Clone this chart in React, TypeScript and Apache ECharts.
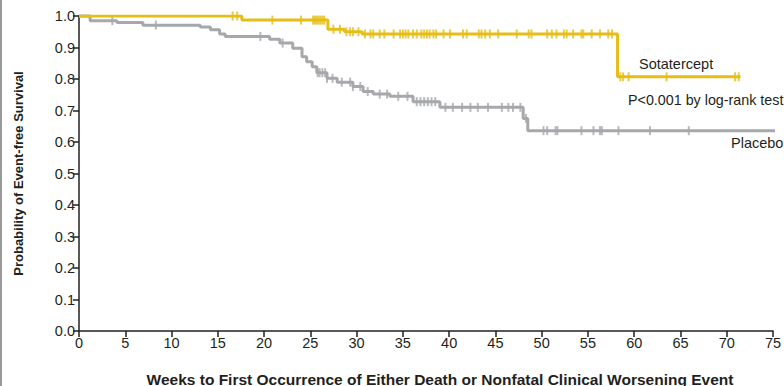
import React, { useEffect, useRef } from "react";
import * as echarts from "echarts";

// Kaplan–Meier step data (weeks, event-free probability)
const sotaWeeks = [0, 17.6, 26.9, 28.7, 30.6, 58.2, 71.5];
const sotaSurv = [1.0, 0.987, 0.958, 0.95, 0.943, 0.807, 0.807];

const placeboWeeks = [0, 1.2, 4.1, 6.9, 13.1, 14.2, 15.2, 15.8, 20.6, 21.7, 23.1, 24.1, 24.6, 25.2, 25.7, 26.8, 27.9, 29.6, 30.7, 31.8, 33.6, 36.1, 39.0, 48.0, 48.5, 76.2];
const placeboSurv = [1.0, 0.985, 0.979, 0.971, 0.965, 0.956, 0.943, 0.935, 0.926, 0.914, 0.898, 0.871, 0.855, 0.839, 0.82, 0.802, 0.79, 0.776, 0.76, 0.752, 0.745, 0.728, 0.71, 0.675, 0.636, 0.636];

// Censoring times (weeks)
const sotaCensor = [16.6, 17.1, 20.9, 24.0, 25.3, 25.5, 25.7, 25.9, 26.1, 26.3, 26.5, 27.5, 28.2, 28.9, 29.3, 29.6, 30.2, 30.9, 31.5, 31.8, 32.5, 33.0, 34.0, 34.7, 35.0, 35.3, 35.6, 36.1, 36.5, 37.0, 37.3, 37.6, 37.9, 38.3, 38.6, 39.4, 40.1, 41.5, 41.9, 43.2, 43.5, 43.9, 44.4, 45.3, 47.3, 48.6, 48.9, 50.6, 51.1, 51.6, 52.4, 52.7, 53.4, 54.3, 54.5, 55.4, 56.3, 57.2, 57.6, 58.5, 58.8, 59.4, 63.5, 70.9, 71.3];
const placeboCensor = [3.6, 8.3, 19.6, 22.0, 25.8, 26.0, 26.3, 26.6, 26.8, 27.4, 28.4, 29.3, 29.6, 30.4, 31.2, 32.5, 33.3, 34.5, 35.5, 36.5, 36.9, 37.3, 37.7, 38.1, 38.5, 39.6, 40.4, 41.4, 42.3, 43.1, 44.2, 45.7, 46.4, 46.9, 47.7, 48.3, 50.2, 50.6, 51.5, 51.7, 54.3, 55.6, 56.3, 56.5, 58.3, 61.7, 65.9];

const xTicks = { min: 0, max: 75, interval: 5 };
const yTicks = { min: 0, max: 1, interval: 0.1 };

const YELLOW = "#E5BE17";
const GRAY = "#A6A8AB";
const TEXT = "#231F20";
const FONT = "Liberation Sans";

function survAt(weeks: number[], surv: number[], t: number): number {
  let v = surv[0];
  for (let i = 0; i < weeks.length; i++) {
    if (weeks[i] <= t) v = surv[i];
  }
  return v;
}

export default function App() {
  const ref = useRef<HTMLDivElement>(null);
  useEffect(() => {
    document.body.style.margin = "0";
    const chart = echarts.init(ref.current!, null, { renderer: "svg" });
    const sotaLine = sotaWeeks.map((w, i) => [w, sotaSurv[i]]);
    const placeboLine = placeboWeeks.map((w, i) => [w, placeboSurv[i]]);
    const sotaMarks = sotaCensor.map((t) => [t, survAt(sotaWeeks, sotaSurv, t)]);
    const placeboMarks = placeboCensor.map((t) => [t, survAt(placeboWeeks, placeboSurv, t)]);
    chart.setOption({
      animation: false,
      backgroundColor: "#ffffff",
      grid: { left: 79, right: 11, top: 16, bottom: 55, containLabel: false, outerBoundsMode: "none" },
      xAxis: {
        type: "value",
        min: xTicks.min,
        max: xTicks.max,
        interval: xTicks.interval,
        name: "Weeks to First Occurrence of Either Death or Nonfatal Clinical Worsening Event",
        nameLocation: "middle",
        nameGap: 40,
        nameTextStyle: { fontFamily: FONT, fontWeight: "bold", fontSize: 15.5, color: TEXT, padding: [0, 0, 0, 28] },
        axisLine: { show: true, onZero: false, lineStyle: { color: TEXT, width: 1.5 } },
        axisTick: { show: true, length: 6, lineStyle: { color: TEXT, width: 1.5 } },
        axisLabel: { fontFamily: FONT, fontSize: 14.5, color: TEXT, margin: 4 },
        splitLine: { show: false },
      },
      yAxis: {
        type: "value",
        min: yTicks.min,
        max: yTicks.max,
        interval: yTicks.interval,
        name: "Probability of Event-free Survival",
        nameLocation: "middle",
        nameGap: 54,
        nameTextStyle: { fontFamily: FONT, fontWeight: "bold", fontSize: 13, color: TEXT },
        axisLine: { show: true, onZero: false, lineStyle: { color: TEXT, width: 1.5 } },
        axisTick: { show: true, length: 6, lineStyle: { color: TEXT, width: 1.5 } },
        axisLabel: { fontFamily: FONT, fontSize: 14.5, color: TEXT, margin: 4, formatter: (v: number) => v.toFixed(1) },
        splitLine: { show: false },
      },
      series: [
        {
          name: "Placebo",
          type: "line",
          step: "end",
          data: placeboLine,
          showSymbol: false,
          symbol: "none",
          clip: false,
          lineStyle: { color: GRAY, width: 3 },
          z: 2,
        },
        {
          name: "Placebo censored",
          type: "scatter",
          data: placeboMarks,
          symbol: "rect",
          symbolSize: [2, 9],
          itemStyle: { color: GRAY },
          z: 3,
        },
        {
          name: "Sotatercept",
          type: "line",
          step: "end",
          data: sotaLine,
          showSymbol: false,
          symbol: "none",
          lineStyle: { color: YELLOW, width: 3 },
          z: 4,
        },
        {
          name: "Sotatercept censored",
          type: "scatter",
          data: sotaMarks,
          symbol: "rect",
          symbolSize: [2, 9],
          itemStyle: { color: YELLOW },
          z: 5,
        },
      ],
      graphic: [
        { type: "rect", left: 0, top: 0, shape: { width: 2, height: 386 }, style: { fill: "#9a9a9a" } },
        { type: "text", left: 639, top: 56, style: { text: "Sotatercept", fontFamily: FONT, fontSize: 14.5, fill: TEXT } },
        { type: "text", left: 628, top: 93, style: { text: "P<0.001 by log-rank test", fontFamily: FONT, fontSize: 14.3, fill: TEXT } },
        { type: "text", left: 731, top: 135, style: { text: "Placebo", fontFamily: FONT, fontSize: 14.5, fill: TEXT } },
      ],
    });
    return () => chart.dispose();
  }, []);
  return <div ref={ref} style={{ width: 784, height: 386 }} />;
}
